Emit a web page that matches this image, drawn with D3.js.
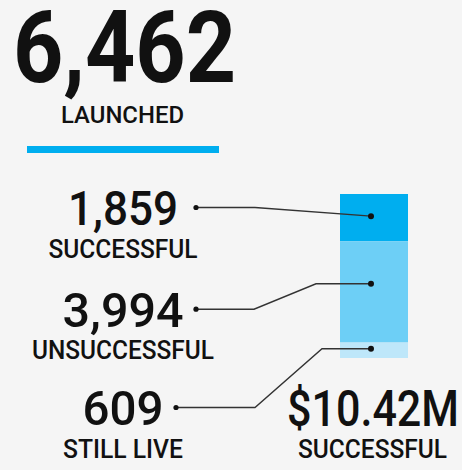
<!DOCTYPE html>
<html>
<head>
<meta charset="utf-8">
<script src="https://cdn.jsdelivr.net/npm/d3@7"></script>
<style>
  html, body { margin: 0; padding: 0; background: #f5f5f5; }
  svg { display: block; }
  text { font-family: Roboto, "Noto Sans", sans-serif; fill: #111; }
</style>
</head>
<body>
<svg id="chart" width="462" height="470"></svg>
<script>
// ---- data ----
const totalLabel = "LAUNCHED";
const totalLaunched = 6462;
const categories = ["SUCCESSFUL", "UNSUCCESSFUL", "STILL LIVE"];
const counts = [1859, 3994, 609];
const colors = ["#00aeef", "#6dcff6", "#bee7fa"];
const pledgedValue = "$10.42M";
const pledgedLabel = "SUCCESSFUL";

// ---- layout ----
const W = 462, H = 470;
const leftCenter = 123;
const barX = 340, barW = 68, barTop = 194, barBottom = 358;
const numberBaselines = [225, 326.7, 425];
const numberWidths = [110, 121, 81];
const labelWidths = [149, 182, 120];
const numberSize = 49, numberCap = 35;
const labelSize = 25;
const leftDotX = [196, 196, 176];
const elbowX = [255, 254, 255];
const bendX = [null, 316, 322];
const anchorFrac = [0.47, 0.42, 0.40];
const rightDotX = 371;

const svg = d3.select("#chart");
const fmt = d3.format(",");

function fitText(sel, width) {
  sel.attr("textLength", width).attr("lengthAdjust", "spacingAndGlyphs");
  return sel;
}

// headline
fitText(svg.append("text")
  .attr("x", 124.5).attr("y", 82)
  .attr("text-anchor", "middle")
  .attr("font-size", 101).attr("font-weight", 700)
  .text(fmt(totalLaunched)), 223);

fitText(svg.append("text")
  .attr("x", 122.5).attr("y", 122.7)
  .attr("text-anchor", "middle")
  .attr("font-size", 23.5).attr("font-weight", 500)
  .text(totalLabel), 123);

svg.append("rect")
  .attr("x", 27).attr("y", 146)
  .attr("width", 192).attr("height", 7)
  .attr("fill", "#00aeef");

// stacked bar
const y = d3.scaleLinear().domain([0, totalLaunched]).range([barTop, barBottom]);
const stack = [];
let acc = 0;
counts.forEach((c, i) => { stack.push({ i, y0: acc, y1: acc + c, v: c, cat: categories[i] }); acc += c; });

svg.append("g").selectAll("rect")
  .data(stack)
  .join("rect")
  .attr("x", barX)
  .attr("y", d => y(d.y0))
  .attr("width", barW)
  .attr("height", d => y(d.y1) - y(d.y0))
  .attr("fill", d => colors[d.i]);

// labels
const lg = svg.append("g");
stack.forEach(d => {
  const i = d.i;
  fitText(lg.append("text")
    .attr("x", leftCenter).attr("y", numberBaselines[i])
    .attr("text-anchor", "middle")
    .attr("font-size", numberSize).attr("font-weight", 500)
    .text(fmt(d.v)), numberWidths[i]);
  fitText(lg.append("text")
    .attr("x", leftCenter).attr("y", numberBaselines[i] + 32.5)
    .attr("text-anchor", "middle")
    .attr("font-size", labelSize).attr("font-weight", 500)
    .text(d.cat), labelWidths[i]);

  const ly = numberBaselines[i] - numberCap / 2;
  const ry = y(d.y0) + anchorFrac[i] * (y(d.y1) - y(d.y0));
  const pts = [[leftDotX[i], ly], [elbowX[i], ly]];
  if (bendX[i] !== null) pts.push([bendX[i], ry]);
  pts.push([rightDotX, ry]);

  lg.append("path")
    .attr("d", d3.line()(pts))
    .attr("fill", "none")
    .attr("stroke", "#333")
    .attr("stroke-width", 1.4);
  lg.append("circle").attr("cx", leftDotX[i]).attr("cy", ly).attr("r", 2.6).attr("fill", "#111");
  lg.append("circle").attr("cx", rightDotX).attr("cy", ry).attr("r", 3).attr("fill", "#111");
});

// pledged
fitText(svg.append("text")
  .attr("x", 373).attr("y", 426)
  .attr("text-anchor", "middle")
  .attr("font-size", 50).attr("font-weight", 500)
  .text(pledgedValue), 172);
fitText(svg.append("text")
  .attr("x", 372.5).attr("y", 458.3)
  .attr("text-anchor", "middle")
  .attr("font-size", labelSize).attr("font-weight", 500)
  .text(pledgedLabel), 149);
</script>
</body>
</html>
